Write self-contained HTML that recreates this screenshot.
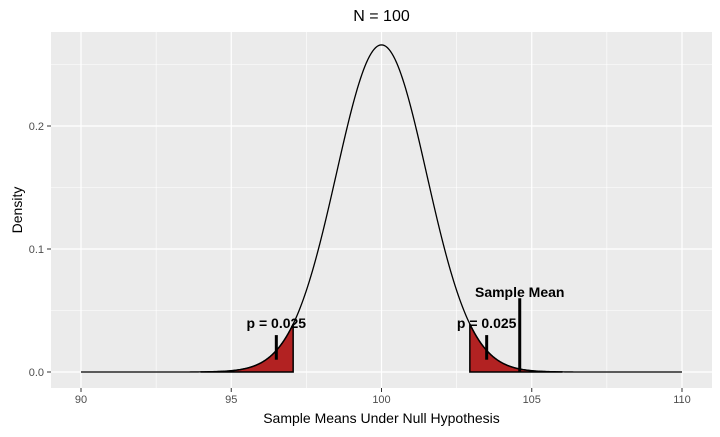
<!DOCTYPE html>
<html><head><meta charset="utf-8"><style>
body{margin:0;background:#fff;font-family:"Liberation Sans",sans-serif}
</style></head><body>
<svg id="c" width="720" height="432" xmlns="http://www.w3.org/2000/svg" font-family="Liberation Sans, sans-serif"></svg>
<script>
const xTicks=[90,95,100,105,110];
const yTicks=[0,0.1,0.2];
const yTickLabels=["0.0","0.1","0.2"];
const distMean=[100];
const distSd=[1.5];
const xRange=[90,110];
const leftShade=[94,97.06];
const rightShade=[102.94,106];
const pTicks=[96.5,103.5];
const pLabels=["p = 0.025","p = 0.025"];
const sampleMean=[104.6];
const sampleMeanHeight=[0.06];

const svg=document.getElementById('c');
const NS="http://www.w3.org/2000/svg";
const L=51,R=712,T=32,B=388;
const xs=v=>81+(v-90)*30.05;
const ys=v=>372-v*1230;
function el(t,a,p){const e=document.createElementNS(NS,t);for(const k in a)e.setAttribute(k,a[k]);(p||svg).appendChild(e);return e;}
const dn=x=>Math.exp(-0.5*((x-distMean[0])/distSd[0])**2)/(distSd[0]*Math.sqrt(2*Math.PI));

const panel=el('rect',{x:L,y:T,width:R-L,height:B-T,fill:'#ebebeb'});


for(let i=0;i<xTicks.length-1;i++){const v=(xTicks[i]+xTicks[i+1])/2;const g=el('line',{x1:xs(v),x2:xs(v),y1:T,y2:B,stroke:'#fff','stroke-width':0.6});}
for(let i=0;i<yTicks.length;i++){const v=yTicks[i]+0.05;const g=el('line',{x1:L,x2:R,y1:ys(v),y2:ys(v),stroke:'#fff','stroke-width':0.6});}
xTicks.forEach(v=>{const g=el('line',{x1:xs(v),x2:xs(v),y1:T,y2:B,stroke:'#fff','stroke-width':1.2});
const t=el('line',{x1:xs(v),x2:xs(v),y1:B,y2:B+4,stroke:'#333'});
const l=el('text',{x:xs(v),y:B+15,'text-anchor':'middle','font-size':11,fill:'#4d4d4d'});l.textContent=v;});
yTicks.forEach((v,i)=>{const g=el('line',{x1:L,x2:R,y1:ys(v),y2:ys(v),stroke:'#fff','stroke-width':1.2});
const t=el('line',{x1:L-4,x2:L,y1:ys(v),y2:ys(v),stroke:'#333'});
const l=el('text',{x:L-7,y:ys(v)+4,'text-anchor':'end','font-size':11,fill:'#4d4d4d'});l.textContent=yTickLabels[i];});

let d='';for(let x=xRange[0];x<=xRange[1]+1e-9;x+=0.05)d+=(d?'L':'M')+xs(x)+','+ys(dn(x));
const curve=el('path',{d,fill:'none',stroke:'#000','stroke-width':1.3});

function shade(a,b,name){let d=`M${xs(a)},${ys(0)}`;for(let x=a;x<=b+1e-9;x+=0.02)d+=`L${xs(x)},${ys(dn(x))}`;d+=`L${xs(b)},${ys(dn(b))}L${xs(b)},${ys(0)}Z`;
const p=el('path',{d,fill:'#b22222',stroke:'#000','stroke-width':1.5});}
shade(leftShade[0],leftShade[1],'left-rejection-region');
shade(rightShade[0],rightShade[1],'right-rejection-region');

pTicks.forEach((v,i)=>{const s=el('line',{x1:xs(v),x2:xs(v),y1:ys(0.01),y2:ys(0.03),stroke:'#000','stroke-width':3});
const t=el('text',{x:xs(v),y:ys(0.04)+5,'text-anchor':'middle','font-size':14,'font-weight':'bold',fill:'#000'});t.textContent=pLabels[i];});
const sm=el('line',{x1:xs(sampleMean[0]),x2:xs(sampleMean[0]),y1:ys(0),y2:ys(sampleMeanHeight[0]),stroke:'#000','stroke-width':3});
const st=el('text',{x:xs(sampleMean[0]),y:ys(sampleMeanHeight[0]+0.005)+5,'text-anchor':'middle','font-size':14,'font-weight':'bold',fill:'#000'});st.textContent='Sample Mean';

const ti=el('text',{x:(L+R)/2,y:21,'text-anchor':'middle','font-size':16,fill:'#000'});ti.textContent='N = 100';
const xt=el('text',{x:(L+R)/2,y:423,'text-anchor':'middle','font-size':14,fill:'#000'});xt.textContent='Sample Means Under Null Hypothesis';
const yt=el('text',{x:22,y:(T+B)/2,'text-anchor':'middle','font-size':14,fill:'#000',transform:`rotate(-90 22 ${(T+B)/2})`});yt.textContent='Density';
</script>
</body></html>
